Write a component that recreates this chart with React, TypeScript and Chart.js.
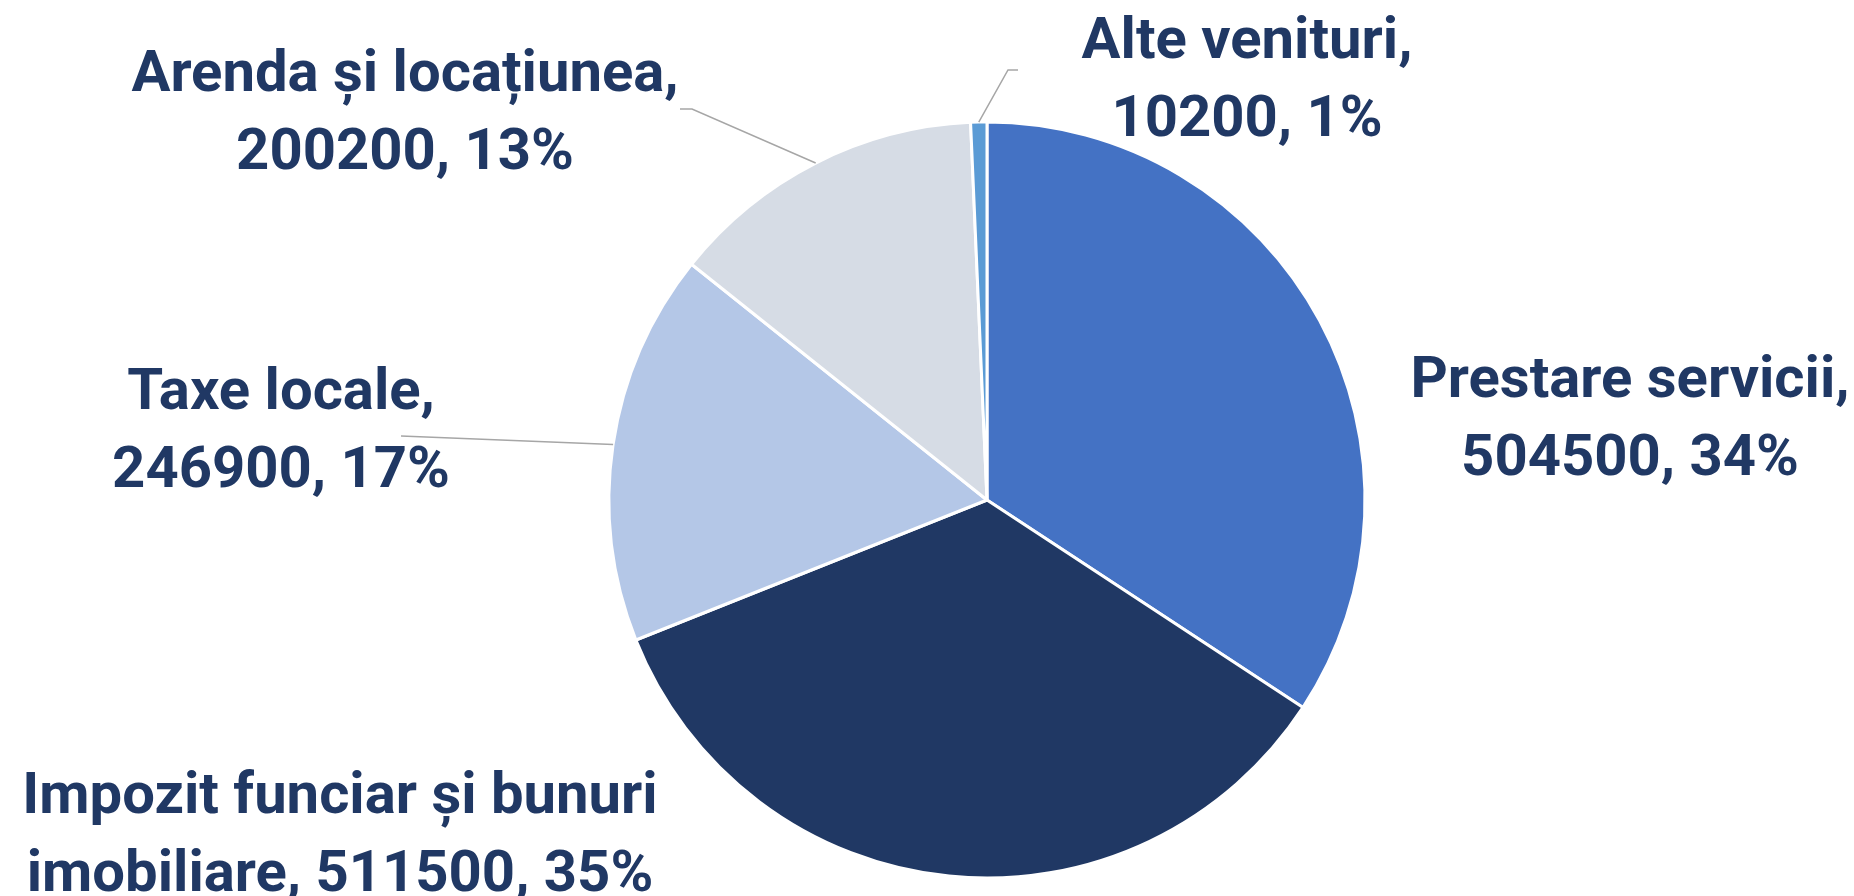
import React, { useEffect, useRef } from "react";
import { Chart, registerables } from "chart.js";

Chart.register(...registerables);

// ---- data ----
const CATEGORIES = [
  "Prestare servicii",
  "Impozit funciar și bunuri imobiliare",
  "Taxe locale",
  "Arenda și locațiunea",
  "Alte venituri",
];
const VALUES = [504500, 511500, 246900, 200200, 10200];
const PERCENT_LABELS = ["34%", "35%", "17%", "13%", "1%"];

// ---- style / layout ----
const COLORS = ["#4472C4", "#203864", "#B4C7E7", "#D6DCE5", "#5B9BD5"];
const TEXT_COLOR = "#203864";
const LEADER_COLOR = "#A6A6A6";
const FONT = "bold 58px Roboto";
const LINE_HEIGHT = 78;

type Layout = { x: number; y: number; wrap: number; leader: number[][] | null };
const LABEL_LAYOUT: Layout[] = [
  { x: 1630, y: 397, wrap: 480, leader: null },
  { x: 340, y: 813, wrap: 720, leader: null },
  { x: 281, y: 409, wrap: 400, leader: [[401, 436]] },
  { x: 405, y: 91, wrap: 640, leader: [[692, 109], [680, 109]] },
  { x: 1247, y: 58, wrap: 420, leader: [[1008, 70], [1018, 70]] },
];

function wrapText(ctx: CanvasRenderingContext2D, text: string, maxW: number): string[] {
  const words = text.split(" ");
  const lines: string[] = [];
  let cur = "";
  for (const w of words) {
    const test = cur ? cur + " " + w : w;
    if (cur && ctx.measureText(test).width > maxW) {
      lines.push(cur);
      cur = w;
    } else {
      cur = test;
    }
  }
  if (cur) lines.push(cur);
  return lines;
}

const labelPlugin = {
  id: "outsideLabels",
  afterDatasetsDraw(chart: any) {
    const ctx: CanvasRenderingContext2D = chart.ctx;
    const meta = chart.getDatasetMeta(0);
    meta.data.forEach((arc: any, i: number) => {
      const lay = LABEL_LAYOUT[i];
      const p = arc.getProps(["x", "y", "startAngle", "endAngle", "outerRadius"], true);
      const mid = (p.startAngle + p.endAngle) / 2;
      if (lay.leader) {
        const sx = p.x + Math.cos(mid) * p.outerRadius;
        const sy = p.y + Math.sin(mid) * p.outerRadius;
        ctx.save();
        ctx.strokeStyle = LEADER_COLOR;
        ctx.lineWidth = 1.5;
        ctx.beginPath();
        ctx.moveTo(sx, sy);
        lay.leader.forEach((pt) => ctx.lineTo(pt[0], pt[1]));
        ctx.stroke();
        ctx.restore();
      }
      ctx.save();
      ctx.font = FONT;
      ctx.fillStyle = TEXT_COLOR;
      ctx.textAlign = "center";
      ctx.textBaseline = "alphabetic";
      const text = `${CATEGORIES[i]}, ${VALUES[i]}, ${PERCENT_LABELS[i]}`;
      const lines = wrapText(ctx, text, lay.wrap);
      lines.forEach((ln, k) => ctx.fillText(ln, lay.x, lay.y + k * LINE_HEIGHT));
      ctx.restore();
    });
  },
};

export default function App() {
  const ref = useRef<HTMLCanvasElement | null>(null);
  useEffect(() => {
    if (!ref.current) return;
    const chart = new Chart(ref.current, {
      type: "pie",
      data: {
        labels: CATEGORIES,
        datasets: [
          {
            data: VALUES,
            backgroundColor: COLORS,
            borderColor: "#FFFFFF",
            borderWidth: 3,
            radius: 378,
          } as any,
        ],
      },
      options: {
        animation: false,
        responsive: false,
        events: [],
        layout: { padding: { left: 587, right: 467, top: 110, bottom: 6 } },
        plugins: {
          legend: { display: false },
          tooltip: { enabled: false },
        },
      },
      plugins: [labelPlugin],
    });
    return () => chart.destroy();
  }, []);
  return (
    <div style={{ position: "absolute", left: 0, top: 0, width: 1854, height: 896, background: "#FFFFFF" }}>
      <canvas ref={ref} width={1854} height={896} style={{ display: "block" }} />
    </div>
  );
}
